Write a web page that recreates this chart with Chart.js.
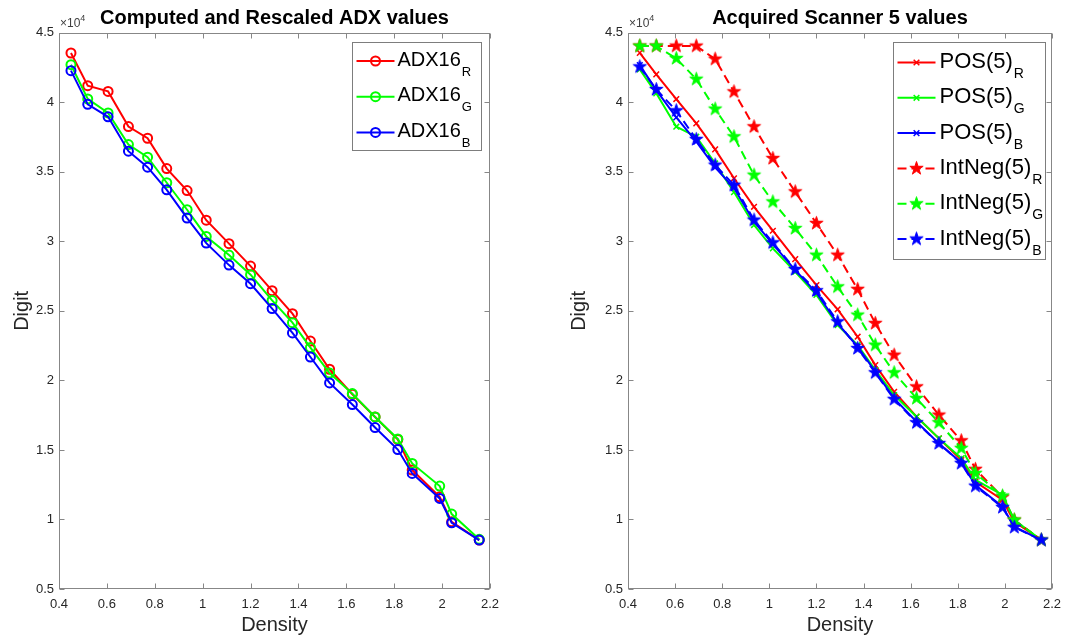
<!DOCTYPE html>
<html>
<head>
<meta charset="utf-8">
<script src="https://cdn.jsdelivr.net/npm/chart.js@4/dist/chart.umd.min.js"></script>
<style>
  html, body { margin: 0; padding: 0; background: #fff; }
  #wrap { position: relative; width: 1069px; height: 637px; }
  canvas { position: absolute; top: 0; }
</style>
</head>
<body>
<div id="wrap">
  <canvas id="adxChart" width="534" height="637" style="left:0"></canvas>
  <canvas id="scanChart" width="535" height="637" style="left:534px"></canvas>
</div>
<script>
// density steps (same for both panels)
const density = [0.45, 0.52, 0.605, 0.69, 0.77, 0.85, 0.935, 1.015, 1.11, 1.2, 1.29,
  1.375, 1.45, 1.53, 1.625, 1.72, 1.815, 1.875, 1.99, 2.04, 2.155];

// left panel: computed + rescaled ADX (digits)
const adxR = [43540, 41190, 40780, 38250, 37410, 35230, 33650, 31520, 29830, 28220, 26450,
  24800, 22830, 20800, 19000, 17370, 15750, 13550, 11630, 9830, 8520];
const adxG = [42700, 40240, 39230, 36960, 36050, 34210, 32270, 30350, 29010, 27600, 25750,
  24150, 22360, 20530, 19050, 17370, 15790, 14030, 12400, 10390, 8570];
const adxB = [42270, 39850, 38950, 36480, 35330, 33700, 31670, 29870, 28290, 26950, 25160,
  23410, 21680, 19820, 18260, 16610, 15030, 13310, 11510, 9760, 8520];

// right panel: scanner 5, positive and inverted negative
const posR = [43550, 42000, 40230, 38480, 36610, 34530, 32480, 30760, 28720, 26850, 25110,
  23140, 21100, 19180, 17390, 15830, 14270, 12710, 11400, 9840, 8520];
const posG = [42360, 40640, 38240, 37520, 35600, 33540, 31170, 29490, 27810, 26140, 23980,
  22540, 20740, 18950, 17390, 15830, 14400, 12840, 11760, 9960, 8520];
const posB = [42670, 40870, 38910, 37160, 35320, 33830, 31410, 29800, 27930, 26300, 24100,
  22420, 20620, 18710, 17030, 15470, 14080, 12480, 10920, 9480, 8520];
const negR = [44040, 44040, 44040, 44040, 43100, 40750, 38240, 35960, 33560, 31290, 29010,
  26550, 24100, 21820, 19540, 17510, 15660, 13610, 11610, 9960, 8520];
const negG = [44040, 44040, 43150, 41660, 39510, 37520, 34760, 32840, 30930, 29010, 26730,
  24700, 22540, 20550, 18710, 16960, 15120, 13320, 11690, 9960, 8520];
const negB = [42550, 40920, 39390, 37330, 35480, 34040, 31530, 29900, 27980, 26450, 24220,
  22300, 20550, 18640, 16960, 15470, 14040, 12400, 10870, 9440, 8520];

const xTicks = { min: 0.4, max: 2.2, step: 0.2 };
const yTicks = { min: 5000, max: 45000, step: 5000 };

const FONT = '"Liberation Sans", Arial, Helvetica, sans-serif';
Chart.defaults.font.family = FONT;
Chart.defaults.color = '#262626';

const RED = '#ff0000', GREEN = '#00ff00', BLUE = '#0000ff';

function toPts(ys) {
  return ys.map((v, i) => ({ x: density[i], y: v }));
}

// filled pentagram marker
function starImage(color, r) {
  const c = document.createElement('canvas');
  const s = Math.ceil(r * 2 + 3);
  c.width = s; c.height = s;
  const g = c.getContext('2d');
  g.translate(s / 2, s / 2);
  g.beginPath();
  for (let k = 0; k < 10; k++) {
    const rr = k % 2 ? r * 0.382 : r;
    const a = -Math.PI / 2 + k * Math.PI / 5;
    g.lineTo(rr * Math.cos(a), rr * Math.sin(a));
  }
  g.closePath();
  g.fillStyle = color; g.fill();
  g.strokeStyle = color; g.lineWidth = 1; g.stroke();
  return c;
}

// box + inward ticks + exponent like matlab
const axesBox = {
  id: 'axesBox',
  beforeDatasetsDraw(chart) {
    const { ctx, chartArea: a, scales: { x, y } } = chart;
    ctx.save();
    ctx.strokeStyle = '#878787';
    ctx.lineWidth = 1;
    const L = Math.round(a.left) + 0.5, R = Math.round(a.right) - 0.5;
    const T = Math.round(a.top) + 0.5, B = Math.round(a.bottom) - 0.5;
    ctx.strokeRect(L, T, R - L, B - T);
    ctx.beginPath();
    x.ticks.forEach(t => {
      const px = Math.round(x.getPixelForValue(t.value)) + 0.5;
      ctx.moveTo(px, B); ctx.lineTo(px, B - 5);
      ctx.moveTo(px, T); ctx.lineTo(px, T + 5);
    });
    y.ticks.forEach(t => {
      const py = Math.round(y.getPixelForValue(t.value)) + 0.5;
      ctx.moveTo(L, py); ctx.lineTo(L + 5, py);
      ctx.moveTo(R, py); ctx.lineTo(R - 5, py);
    });
    ctx.stroke();
    ctx.fillStyle = '#404040';
    ctx.textBaseline = 'alphabetic';
    ctx.font = '12px ' + FONT;
    ctx.fillText('\u00d710', a.left + 1, a.top - 6);
    const w = ctx.measureText('\u00d710').width;
    ctx.font = '9px ' + FONT;
    ctx.fillText('4', a.left + 1 + w, a.top - 12);
    ctx.restore();
  }
};

// legend with subscripts
function drawMarker(ctx, ds, x, y) {
  const st = ds.pointStyle;
  ctx.save();
  ctx.strokeStyle = ds.borderColor;
  ctx.lineWidth = ds.pointBorderWidth;
  if (st instanceof HTMLCanvasElement) {
    ctx.drawImage(st, x - st.width / 2, y - st.height / 2);
  } else if (st === 'circle') {
    ctx.beginPath(); ctx.arc(x, y, ds.pointRadius, 0, Math.PI * 2); ctx.stroke();
  } else if (st === 'crossRot') {
    const r = ds.pointRadius * 0.707;
    ctx.beginPath();
    ctx.moveTo(x - r, y - r); ctx.lineTo(x + r, y + r);
    ctx.moveTo(x - r, y + r); ctx.lineTo(x + r, y - r);
    ctx.stroke();
  }
  ctx.restore();
}

const subLegend = {
  id: 'subLegend',
  afterDraw(chart, args, o) {
    const { ctx, chartArea: a } = chart;
    const dsets = chart.data.datasets;
    const x0 = Math.round(a.right - o.right - o.width) + 0.5;
    const y0 = Math.round(a.top + o.top) + 0.5;
    const h = Math.round(o.firstRow * 2 + o.rowGap * (dsets.length - 1));
    ctx.save();
    ctx.fillStyle = '#fff';
    ctx.fillRect(x0, y0, o.width, h);
    ctx.strokeStyle = '#7d7d7d';
    ctx.lineWidth = 1;
    ctx.strokeRect(x0, y0, o.width, h);
    dsets.forEach((ds, i) => {
      const y = y0 + o.firstRow + i * o.rowGap;
      const lx = x0 + o.padLeft;
      ctx.strokeStyle = ds.borderColor;
      ctx.lineWidth = ds.borderWidth;
      ctx.setLineDash(ds.borderDash || []);
      ctx.beginPath(); ctx.moveTo(lx, y); ctx.lineTo(lx + o.sample, y); ctx.stroke();
      ctx.setLineDash([]);
      drawMarker(ctx, ds, lx + o.sample / 2, y);
      ctx.fillStyle = '#000';
      ctx.textBaseline = 'alphabetic';
      ctx.font = o.fontSize + 'px ' + FONT;
      const tx = lx + o.sample + o.gap;
      const base = y + o.baseOff;
      ctx.fillText(ds.label, tx, base);
      const w = ctx.measureText(ds.label).width;
      ctx.font = o.subSize + 'px ' + FONT;
      ctx.fillText(ds.sub, tx + w + 1, base + o.subDrop);
    });
    ctx.restore();
  }
};

function fmtX(v) { return String(parseFloat(Number(v).toFixed(1))); }
function fmtY(v) { return String(parseFloat((v / 10000).toFixed(1))); }

function makeOptions(title, yWidth, yTitlePad, padRight, legendOpts) {
  return {
    responsive: false,
    animation: false,
    devicePixelRatio: 1,
    layout: { padding: { left: 0, right: padRight, top: 0, bottom: 0 } },
    plugins: {
      legend: { display: false },
      tooltip: { enabled: false },
      title: {
        display: true, text: title, color: '#000', fullSize: false,
        font: { size: 20, weight: 'bold' },
        padding: { top: 6.5, bottom: 2.2 }
      },
      subLegend: legendOpts
    },
    scales: {
      x: {
        type: 'linear', min: xTicks.min, max: xTicks.max,
        grid: { display: false, drawTicks: false }, border: { display: false },
        ticks: { stepSize: xTicks.step, padding: 8, maxRotation: 0, autoSkip: false,
          font: { size: 13 }, color: '#262626', callback: fmtX },
        title: { display: true, text: 'Density', font: { size: 20 }, color: '#262626',
          padding: { top: 0, bottom: 0 } },
        afterFit: s => { s.height = 48; }
      },
      y: {
        type: 'linear', min: yTicks.min, max: yTicks.max,
        grid: { display: false, drawTicks: false }, border: { display: false },
        ticks: { stepSize: yTicks.step, padding: 5, font: { size: 13 }, color: '#262626',
          callback: fmtY },
        title: { display: true, text: 'Digit', font: { size: 20 }, color: '#262626',
          padding: { top: yTitlePad, bottom: 0 } },
        afterFit: s => { s.width = yWidth; }
      }
    }
  };
}

function lineSet(label, sub, data, color, extra) {
  return Object.assign({
    label: label, sub: sub, data: toPts(data),
    borderColor: color, backgroundColor: color,
    borderWidth: 2, tension: 0, fill: false
  }, extra);
}

const circle = c => ({ pointStyle: 'circle', pointRadius: 4.5, pointBorderWidth: 2,
  pointBorderColor: c, pointBackgroundColor: 'rgba(0,0,0,0)' });
const cross = c => ({ pointStyle: 'crossRot', pointRadius: 4, pointBorderWidth: 1.5,
  pointBorderColor: c });
const star = c => ({ pointStyle: starImage(c, 7), pointRadius: 7, pointBorderWidth: 1,
  pointBorderColor: c, borderDash: [9, 5] });

new Chart(document.getElementById('adxChart'), {
  type: 'line',
  data: {
    datasets: [
      lineSet('ADX16', 'R', adxR, RED, Object.assign({ order: 3 }, circle(RED))),
      lineSet('ADX16', 'G', adxG, GREEN, Object.assign({ order: 2 }, circle(GREEN))),
      lineSet('ADX16', 'B', adxB, BLUE, Object.assign({ order: 1 }, circle(BLUE)))
    ]
  },
  options: makeOptions('Computed and Rescaled ADX values', 59, 10, 44, {
    right: 9, top: 9, width: 129, firstRow: 18.5, rowGap: 35.7, padLeft: 4,
    sample: 38, gap: 3, fontSize: 20, subSize: 13, baseOff: 4.7, subDrop: 10
  }),
  plugins: [axesBox, subLegend]
});

new Chart(document.getElementById('scanChart'), {
  type: 'line',
  data: {
    datasets: [
      lineSet('POS(5)', 'R', posR, RED, Object.assign({ order: 6 }, cross(RED))),
      lineSet('POS(5)', 'G', posG, GREEN, Object.assign({ order: 5 }, cross(GREEN))),
      lineSet('POS(5)', 'B', posB, BLUE, Object.assign({ order: 4 }, cross(BLUE))),
      lineSet('IntNeg(5)', 'R', negR, RED, Object.assign({ order: 3 }, star(RED))),
      lineSet('IntNeg(5)', 'G', negG, GREEN, Object.assign({ order: 2 }, star(GREEN))),
      lineSet('IntNeg(5)', 'B', negB, BLUE, Object.assign({ order: 1 }, star(BLUE)))
    ]
  },
  options: makeOptions('Acquired Scanner 5 values', 94, 33, 12, {
    right: 7, top: 9, width: 152, firstRow: 20, rowGap: 35.3, padLeft: 4,
    sample: 38, gap: 4, fontSize: 22, subSize: 14, baseOff: 5.5, subDrop: 10
  }),
  plugins: [axesBox, subLegend]
});
</script>
</body>
</html>
